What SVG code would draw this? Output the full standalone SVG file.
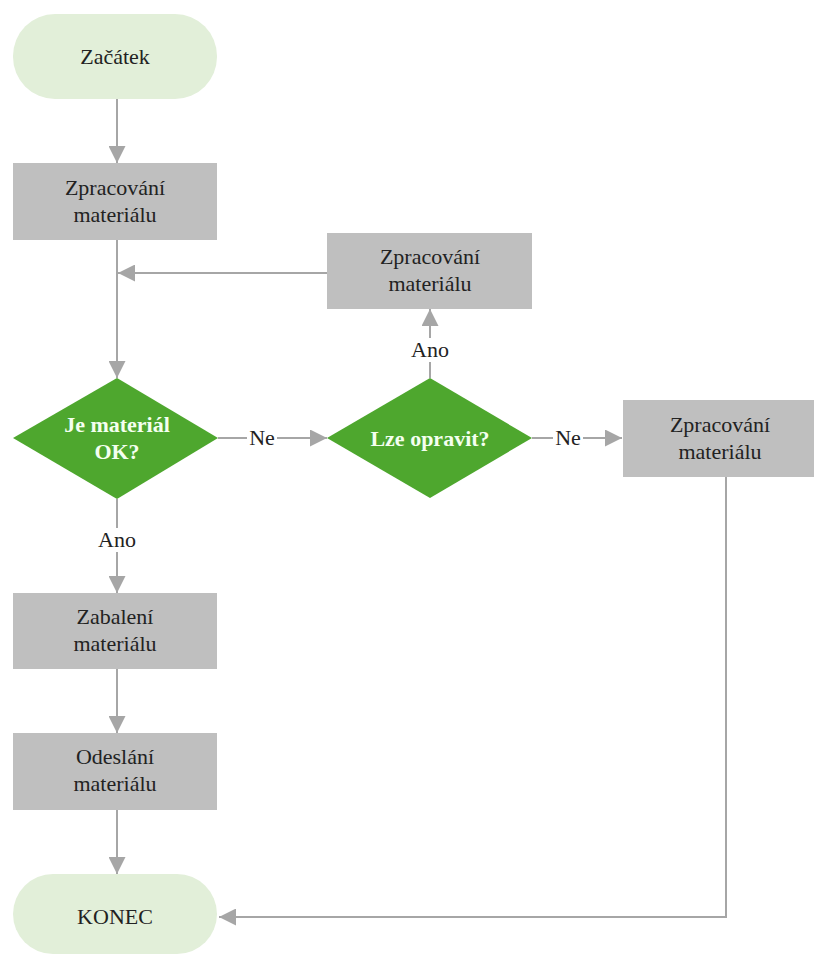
<svg xmlns="http://www.w3.org/2000/svg" width="814" height="956" viewBox="0 0 814 956">
  <style>
    .term { fill: #e2efd9; }
    .proc { fill: #bfbfbf; }
    .dec { fill: #4ea72e; }
    .lbl { fill: #222222; }
    .dlbl { font-weight: bold; fill: #f4fff0; }
    .edge { fill: none; stroke: #a6a6a6; stroke-width: 2; }
    .bg { fill: #ffffff; }
  </style>
  <defs>
    <marker id="arrow" viewBox="0 0 10 10" refX="10" refY="5" markerWidth="8.5" markerHeight="8.5" markerUnits="strokeWidth" orient="auto">
      <path d="M0,0 L10,5 L0,10 Z" fill="#a6a6a6"/>
    </marker>
  </defs>

  <rect width="814" height="956" fill="#ffffff"/>

  <!-- all text shares one serif face -->
  <g font-family="Liberation Serif, Times New Roman, DejaVu Serif, serif" font-size="22" text-anchor="middle">

  <!-- connectors -->
  <g id="connectors">
    <path class="edge" d="M117,99 V163" marker-end="url(#arrow)"/>
    <path class="edge" d="M117,240 V378" marker-end="url(#arrow)"/>
    <path class="edge" d="M327,273 H118" marker-end="url(#arrow)"/>
    <path class="edge" d="M218,438 H327" marker-end="url(#arrow)"/>
    <path class="edge" d="M430,378 V309" marker-end="url(#arrow)"/>
    <path class="edge" d="M532,438 H622" marker-end="url(#arrow)"/>
    <path class="edge" d="M726,477 V917 H219" marker-end="url(#arrow)"/>
    <path class="edge" d="M117,499 V593" marker-end="url(#arrow)"/>
    <path class="edge" d="M117,669 V733" marker-end="url(#arrow)"/>
    <path class="edge" d="M117,810 V874" marker-end="url(#arrow)"/>

    <rect class="bg" x="247" y="426" width="30" height="24"/>
    <text class="lbl" x="262" y="445">Ne</text>
    <rect class="bg" x="553" y="426" width="30" height="24"/>
    <text class="lbl" x="568" y="445">Ne</text>
    <rect class="bg" x="410" y="338" width="40" height="24"/>
    <text class="lbl" x="430" y="357">Ano</text>
    <rect class="bg" x="97" y="528" width="40" height="24"/>
    <text class="lbl" x="117" y="547">Ano</text>
  </g>

  <g id="start">
    <rect class="term" x="13" y="14" width="204" height="85" rx="42" ry="42"/>
    <text class="lbl" x="115" y="64">Začátek</text>
  </g>

  <g id="process1">
    <rect class="proc" x="13" y="163" width="204" height="77"/>
    <text class="lbl" x="115" y="195">Zpracování</text>
    <text class="lbl" x="115" y="222">materiálu</text>
  </g>

  <g id="repair">
    <rect class="proc" x="327" y="233" width="205" height="76"/>
    <text class="lbl" x="430" y="264">Zpracování</text>
    <text class="lbl" x="430" y="291">materiálu</text>
  </g>

  <g id="check">
    <polygon class="dec" points="117,378 218,438 117,499 13,438"/>
    <text class="dlbl" x="117" y="432">Je materiál</text>
    <text class="dlbl" x="117" y="459">OK?</text>
  </g>

  <g id="canrepair">
    <polygon class="dec" points="430,378 532,438 430,498 327,438"/>
    <text class="dlbl" x="430" y="446">Lze opravit?</text>
  </g>

  <g id="scrap">
    <rect class="proc" x="623" y="400" width="191" height="77"/>
    <text class="lbl" x="720" y="432">Zpracování</text>
    <text class="lbl" x="720" y="459">materiálu</text>
  </g>

  <g id="pack">
    <rect class="proc" x="13" y="593" width="204" height="76"/>
    <text class="lbl" x="115" y="624">Zabalení</text>
    <text class="lbl" x="115" y="651">materiálu</text>
  </g>

  <g id="ship">
    <rect class="proc" x="13" y="733" width="204" height="77"/>
    <text class="lbl" x="115" y="764">Odeslání</text>
    <text class="lbl" x="115" y="791">materiálu</text>
  </g>

  <g id="end">
    <rect class="term" x="13" y="874" width="204" height="80" rx="40" ry="40"/>
    <text class="lbl" x="115" y="924">KONEC</text>
  </g>

  </g>
</svg>
